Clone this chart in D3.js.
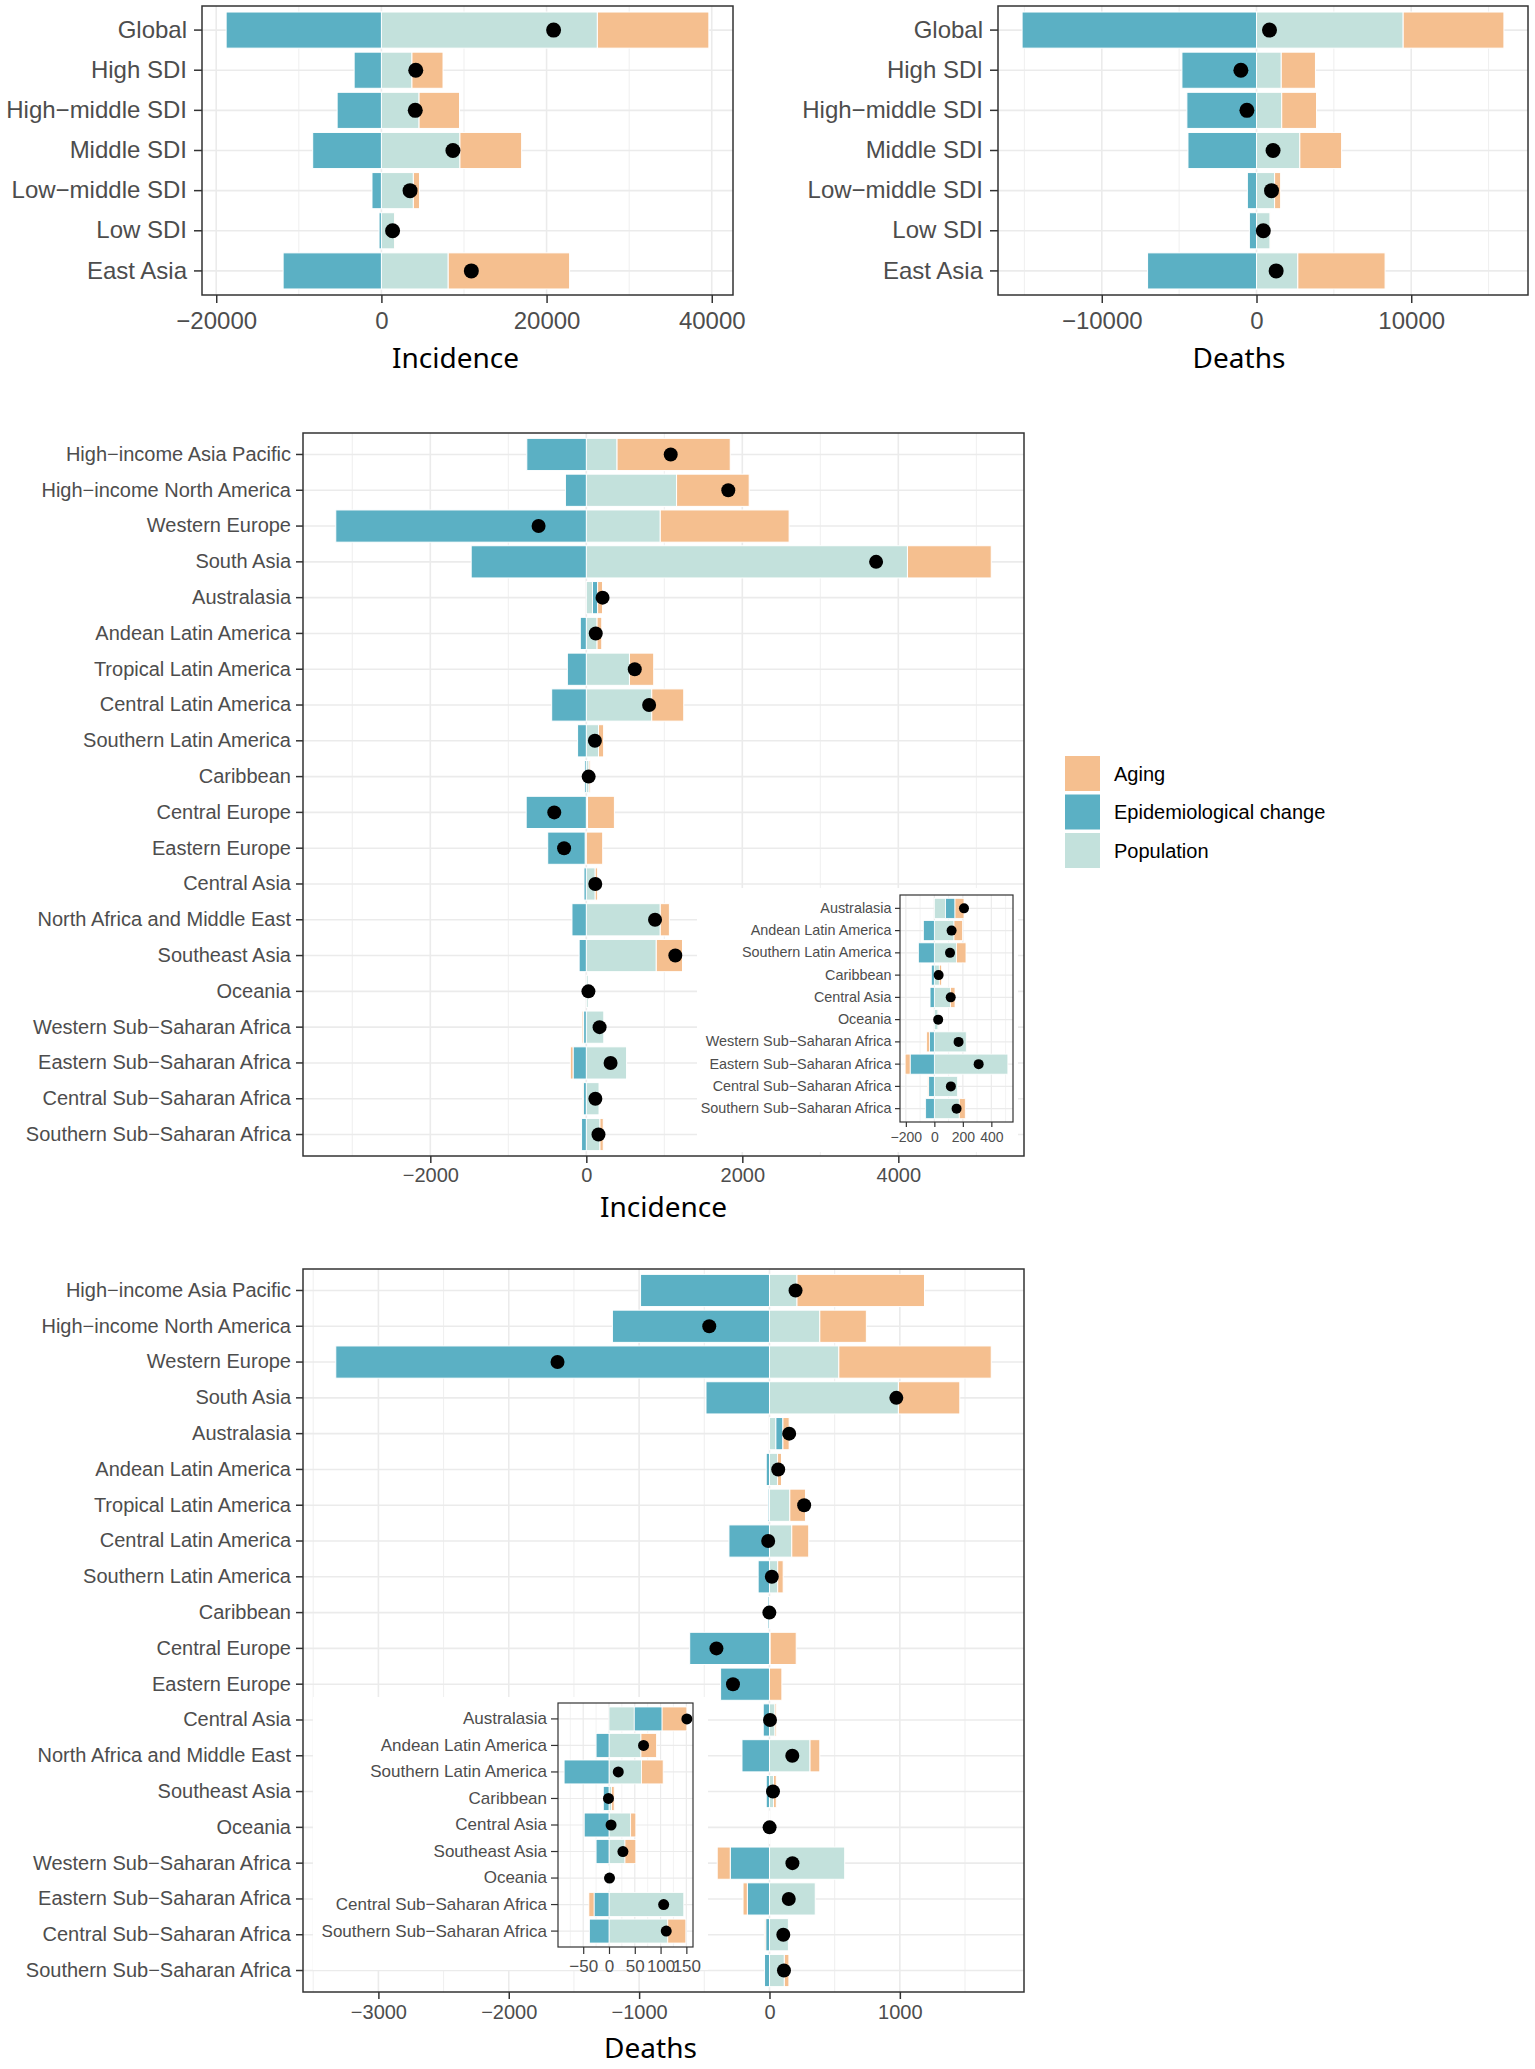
<!DOCTYPE html>
<html>
<head>
<meta charset="utf-8">
<style>
  body { margin: 0; background: #fff; }
  svg text { font-family: "Liberation Sans", Arial, sans-serif; }
</style>
</head>
<body>
<script src="https://d3js.org/d3.v7.min.js"></script>
<script>
// ---- data: SDI groups ----
const sdiCats = ['Global', 'High SDI', 'High−middle SDI', 'Middle SDI', 'Low−middle SDI', 'Low SDI', 'East Asia'];
const sdiIncPop   = [26150, 3700, 4560, 9510, 3870, 1600, 8090];
const sdiIncEpi   = [-18800, -3300, -5360, -8320, -1140, -285, -11900];
const sdiIncAging = [13500, 3760, 4900, 7470, 740, 40, 14700];
const sdiDeaPop   = [9480, 1600, 1630, 2800, 1170, 880, 2670];
const sdiDeaEpi   = [-15150, -4820, -4500, -4430, -590, -460, -7040];
const sdiDeaAging = [6510, 2210, 2250, 2700, 390, 20, 5640];

// ---- data: GBD regions ----
const regionCats = ['High−income Asia Pacific', 'High−income North America', 'Western Europe', 'South Asia',
  'Australasia', 'Andean Latin America', 'Tropical Latin America', 'Central Latin America',
  'Southern Latin America', 'Caribbean', 'Central Europe', 'Eastern Europe', 'Central Asia',
  'North Africa and Middle East', 'Southeast Asia', 'Oceania', 'Western Sub−Saharan Africa',
  'Eastern Sub−Saharan Africa', 'Central Sub−Saharan Africa', 'Southern Sub−Saharan Africa'];
const regIncPop   = [394, 1157, 948, 4117, 79, 138, 553, 839, 156, 35, 15, -15, 114, 948, 897, 26, 224, 516, 163, 175];
const regIncEpi   = [-763, -268, -3212, -1476, 66, -77, -243, -444, -112, -21, -771, -480, -30, -184, -92, 0, -35, -170, -40, -61];
const regIncAging = [1451, 931, 1652, 1074, 63, 60, 311, 410, 66, 16, 345, 210, 31, 117, 336, 1, -19, -35, -7, 42];
const regDeaPop   = [211, 386, 532, 989, 49, 62, 156, 171, 63, 5, 5, 0, 42, 311, 31, 2, 577, 351, 145, 114];
const regDeaEpi   = [-989, -1205, -3327, -487, 54, -25, -10, -311, -87, -11, -612, -375, -48, -211, -25, -1, -301, -170, -29, -38];
const regDeaAging = [978, 357, 1169, 471, 48, 30, 120, 130, 42, 5, 200, 95, 10, 75, 21, 0, -100, -33, -10, 35];

// regions zoomed in the two insets
const insetIncCats = ['Australasia', 'Andean Latin America', 'Southern Latin America', 'Caribbean', 'Central Asia',
  'Oceania', 'Western Sub−Saharan Africa', 'Eastern Sub−Saharan Africa', 'Central Sub−Saharan Africa', 'Southern Sub−Saharan Africa'];
const insetDeaCats = ['Australasia', 'Andean Latin America', 'Southern Latin America', 'Caribbean', 'Central Asia',
  'Southeast Asia', 'Oceania', 'Central Sub−Saharan Africa', 'Southern Sub−Saharan Africa'];

// ---- tick values ----
const sdiIncTicks   = [-20000, 0, 20000, 40000];
const sdiDeaTicks   = [-10000, 0, 10000];
const regIncTicks   = [-2000, 0, 2000, 4000];
const regDeaTicks   = [-3000, -2000, -1000, 0, 1000];
const insetIncTicks = [-200, 0, 200, 400];
const insetDeaTicks = [-50, 0, 50, 100, 150];

const factors = ['Aging', 'Epidemiological change', 'Population'];
const colour = d3.scaleOrdinal()
  .domain(factors)
  .range(['#F5BF8F', '#5BB0C4', '#C3E1DC']);

const W = 1535, H = 2069;
const svg = d3.select('body').append('svg')
  .attr('width', W).attr('height', H);
svg.append('rect').attr('width', W).attr('height', H).attr('fill', '#fff');

function pick(cats, allCats, arr) {
  return cats.map(c => arr[allCats.indexOf(c)]);
}

// stack: Population nearest zero, then Epidemiological change, then Aging
function stackRows(cats, pop, epi, aging) {
  return cats.map((c, i) => {
    let pos = 0, neg = 0;
    const segs = [['Population', pop[i]], ['Epidemiological change', epi[i]], ['Aging', aging[i]]].map(([k, v]) => {
      let x0, x1;
      if (v >= 0) { x0 = pos; x1 = pos + v; pos = x1; }
      else { x1 = neg; x0 = neg + v; neg = x0; }
      return { key: k, x0, x1 };
    });
    return { cat: c, segs, lo: neg, hi: pos, total: pop[i] + epi[i] + aging[i] };
  });
}

function panel(o) {
  const [l, t, r, b] = o.box;
  const rows = stackRows(o.cats, o.pop, o.epi, o.aging);
  const lo = d3.min(rows, d => d.lo), hi = d3.max(rows, d => d.hi);
  const pad = (hi - lo) * 0.05;

  const x = d3.scaleLinear().domain([lo - pad, hi + pad]).range([l, r]);
  const y = d3.scaleBand().domain(o.cats).range([t, b]).paddingInner(0).paddingOuter(0.1);
  const g = svg.append('g');

  if (o.bg) {
    g.append('rect').attr('x', o.bg[0]).attr('y', o.bg[1])
      .attr('width', o.bg[2] - o.bg[0]).attr('height', o.bg[3] - o.bg[1]).attr('fill', '#fff');
  }
  g.append('rect').attr('x', l).attr('y', t).attr('width', r - l).attr('height', b - t).attr('fill', '#fff');

  // grid
  const step = o.ticks[1] - o.ticks[0];
  const minor = [o.ticks[0] - step / 2, ...o.ticks.map(v => v + step / 2)]
    .filter(v => v > x.domain()[0] && v < x.domain()[1]);
  g.selectAll('.minor').data(minor).join('line')
    .attr('x1', d => x(d)).attr('x2', d => x(d)).attr('y1', t).attr('y2', b)
    .attr('stroke', '#EBEBEB').attr('stroke-width', o.gw * 0.5);
  g.selectAll('.majorx').data(o.ticks).join('line')
    .attr('x1', d => x(d)).attr('x2', d => x(d)).attr('y1', t).attr('y2', b)
    .attr('stroke', '#EBEBEB').attr('stroke-width', o.gw);
  g.selectAll('.majory').data(o.cats).join('line')
    .attr('x1', l).attr('x2', r)
    .attr('y1', d => y(d) + y.bandwidth() / 2).attr('y2', d => y(d) + y.bandwidth() / 2)
    .attr('stroke', '#EBEBEB').attr('stroke-width', o.gw);

  // bars
  const bh = y.bandwidth() * 0.9;
  rows.forEach(row => {
    g.selectAll(null).data(row.segs.filter(s => s.x1 !== s.x0)).join('rect')
      .attr('x', s => x(s.x0)).attr('width', s => x(s.x1) - x(s.x0))
      .attr('y', y(row.cat) + (y.bandwidth() - bh) / 2).attr('height', bh)
      .attr('fill', s => colour(s.key))
      .attr('stroke', '#fff').attr('stroke-width', o.sw);
  });

  // net change dots
  g.selectAll('.dot').data(rows).join('circle')
    .attr('cx', d => x(d.total)).attr('cy', d => y(d.cat) + y.bandwidth() / 2)
    .attr('r', o.r).attr('fill', '#000');

  g.append('rect').attr('x', l).attr('y', t).attr('width', r - l).attr('height', b - t)
    .attr('fill', 'none').attr('stroke', '#333').attr('stroke-width', o.bw);

  const ya = g.append('g').attr('transform', `translate(${l},0)`)
    .call(d3.axisLeft(y).tickSize(o.tick).tickPadding(o.ypad));
  const xa = g.append('g').attr('transform', `translate(0,${b})`)
    .call(d3.axisBottom(x).tickValues(o.ticks).tickFormat(d3.format('d')).tickSize(o.tick).tickPadding(o.xpad));
  [ya, xa].forEach(a => {
    a.select('.domain').remove();
    a.selectAll('line').attr('stroke', '#333').attr('stroke-width', o.bw);
  });
  ya.selectAll('text').attr('fill', '#4D4D4D').style('font-size', o.fs + 'px');
  xa.selectAll('text').attr('fill', '#4D4D4D').style('font-size', o.tfs + 'px');

  if (o.title) {
    g.append('text').attr('x', (l + r) / 2 + (o.titleDx || 0)).attr('y', o.titleY)
      .attr('text-anchor', 'middle').attr('dominant-baseline', 'central')
      .style('font-family', '"Noto Sans", sans-serif').style('font-size', '28px')
      .attr('fill', '#000').text(o.title);
  }
}

const big = { tick: 8, ypad: 7, xpad: 9, fs: 24, tfs: 24, r: 7.5, gw: 1.6, bw: 1.5, sw: 1 };
const mid = { tick: 7, ypad: 5, xpad: 5, fs: 20, tfs: 20, r: 7, gw: 1.6, bw: 1.5, sw: 1 };

panel({ ...big, cats: sdiCats, pop: sdiIncPop, epi: sdiIncEpi, aging: sdiIncAging,
  ticks: sdiIncTicks, box: [202, 6, 733, 295], title: 'Incidence', titleY: 357, titleDx: -12 });
panel({ ...big, cats: sdiCats, pop: sdiDeaPop, epi: sdiDeaEpi, aging: sdiDeaAging,
  ticks: sdiDeaTicks, box: [998, 6, 1528, 295], title: 'Deaths', titleY: 357, titleDx: -24 });

panel({ ...mid, cats: regionCats, pop: regIncPop, epi: regIncEpi, aging: regIncAging,
  ticks: regIncTicks, box: [303, 433, 1024, 1156], title: 'Incidence', titleY: 1206 });
panel({ ...mid, xpad: 6, cats: regionCats, pop: regDeaPop, epi: regDeaEpi, aging: regDeaAging,
  ticks: regDeaTicks, box: [303, 1269, 1024, 1992], title: 'Deaths', titleY: 2047, titleDx: -13 });

// insets
panel({ cats: insetIncCats,
  pop: pick(insetIncCats, regionCats, regIncPop), epi: pick(insetIncCats, regionCats, regIncEpi),
  aging: pick(insetIncCats, regionCats, regIncAging),
  ticks: insetIncTicks, box: [900, 895, 1013, 1122], bg: [697, 888, 1018, 1152],
  tick: 5, ypad: 3.5, xpad: 5, fs: 14.4, tfs: 14, r: 5, gw: 1.2, bw: 1.2, sw: 0.8 });
panel({ cats: insetDeaCats,
  pop: pick(insetDeaCats, regionCats, regDeaPop), epi: pick(insetDeaCats, regionCats, regDeaEpi),
  aging: pick(insetDeaCats, regionCats, regDeaAging),
  ticks: insetDeaTicks, box: [558, 1703, 693, 1947], bg: [313, 1697, 708, 1970],
  tick: 7, ypad: 4, xpad: 6, fs: 17, tfs: 17, r: 5.5, gw: 1.2, bw: 1.2, sw: 0.8 });

// legend
const lg = svg.append('g').attr('transform', 'translate(1065,756)');
factors.forEach((f, i) => {
  lg.append('rect').attr('x', 0).attr('y', i * 38.5).attr('width', 35).attr('height', 35)
    .attr('fill', colour(f));
  lg.append('text').attr('x', 49).attr('y', i * 38.5 + 17.5)
    .attr('dominant-baseline', 'central').style('font-size', '20px').attr('fill', '#000').text(f);
});
</script>
</body>
</html>
